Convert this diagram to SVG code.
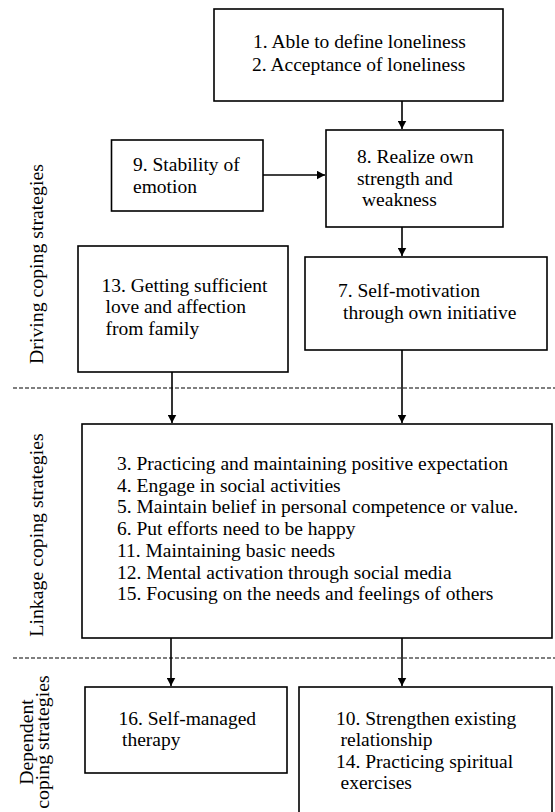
<svg xmlns="http://www.w3.org/2000/svg" width="555" height="812" viewBox="0 0 555 812">
<style>
  .box { fill: #fff; stroke: #000; stroke-width: 1.6; }
  .t { font-family: "Liberation Serif", "Times New Roman", serif; font-size: 19.5px; fill: #000; }
  .lbl { font-family: "Liberation Serif", "Times New Roman", serif; font-size: 19.8px; fill: #000; text-anchor: middle; }
  .arr { stroke: #000; stroke-width: 1.6; fill: none; marker-end: url(#ah); }
  .dash { stroke: #000; stroke-width: 1.1; stroke-dasharray: 4 2; fill: none; }
</style>
<defs>
  <marker id="ah" markerUnits="userSpaceOnUse" markerWidth="9" markerHeight="9" refX="8.5" refY="4.5" orient="auto">
    <path d="M0,0 L8.5,4.5 L0,9 z" fill="#000"/>
  </marker>
</defs>
<rect width="555" height="812" fill="#fff"/>

<g id="section-labels">
  <text class="lbl" transform="translate(43,264) rotate(-90)">Driving coping strategies</text>
  <text class="lbl" transform="translate(43,535) rotate(-90)">Linkage coping strategies</text>
  <text class="lbl" transform="translate(33,742) rotate(-90)">Dependent</text>
  <text class="lbl" transform="translate(49,742) rotate(-90)">coping strategies</text>
</g>

<g id="dividers">
  <line class="dash" x1="13" y1="388" x2="555" y2="388"/>
  <line class="dash" x1="13" y1="658" x2="555" y2="658"/>
</g>

<g id="node-1-2">
  <rect class="box" x="214" y="9" width="289" height="92"/>
  <text class="t" x="253" y="48">1. Able to define loneliness</text>
  <text class="t" x="252" y="71">2. Acceptance of loneliness</text>
</g>

<g id="node-8">
  <rect class="box" x="326" y="130" width="177" height="97"/>
  <text class="t" x="357" y="163">8. Realize own</text>
  <text class="t" x="357" y="185">strength and</text>
  <text class="t" x="362" y="206">weakness</text>
</g>

<g id="node-9">
  <rect class="box" x="111.5" y="140" width="151.5" height="71"/>
  <text class="t" x="133" y="171">9. Stability of</text>
  <text class="t" x="133" y="193">emotion</text>
</g>

<g id="node-13">
  <rect class="box" x="78" y="246" width="210" height="126"/>
  <text class="t" x="101.5" y="292">13. Getting sufficient</text>
  <text class="t" x="105.5" y="313">love and affection</text>
  <text class="t" x="105.5" y="335">from family</text>
</g>

<g id="node-7">
  <rect class="box" x="305" y="257" width="242" height="93"/>
  <text class="t" x="338" y="297">7. Self-motivation</text>
  <text class="t" x="343" y="319">through own initiative</text>
</g>

<g id="node-linkage">
  <rect class="box" x="82" y="424" width="470" height="214"/>
  <text class="t" x="117" y="470">3. Practicing and maintaining positive expectation</text>
  <text class="t" x="117" y="491.7">4. Engage in social activities</text>
  <text class="t" x="117" y="513.4">5. Maintain belief in personal competence or value.</text>
  <text class="t" x="117" y="535.1">6. Put efforts need to be happy</text>
  <text class="t" x="117" y="556.8">11. Maintaining basic needs</text>
  <text class="t" x="117" y="578.5">12. Mental activation through social media</text>
  <text class="t" x="117" y="600.2">15. Focusing on the needs and feelings of others</text>
</g>

<g id="node-16">
  <rect class="box" x="85" y="687" width="202" height="86"/>
  <text class="t" x="118.5" y="725">16. Self-managed</text>
  <text class="t" x="122" y="746">therapy</text>
</g>

<g id="node-10-14">
  <rect class="box" x="299" y="687" width="253" height="140"/>
  <text class="t" x="336" y="725">10. Strengthen existing</text>
  <text class="t" x="340.5" y="746">relationship</text>
  <text class="t" x="336" y="768">14. Practicing spiritual</text>
  <text class="t" x="340.5" y="789">exercises</text>
</g>

<g id="connectors">
  <line class="arr" x1="402" y1="101" x2="402" y2="129"/>
  <line class="arr" x1="263" y1="175" x2="325" y2="175"/>
  <line class="arr" x1="402" y1="227" x2="402" y2="256"/>
  <line class="arr" x1="172" y1="372" x2="172" y2="423"/>
  <line class="arr" x1="402" y1="350" x2="402" y2="423"/>
  <line class="arr" x1="171" y1="638" x2="171" y2="686"/>
  <line class="arr" x1="402" y1="638" x2="402" y2="686"/>
</g>
</svg>
